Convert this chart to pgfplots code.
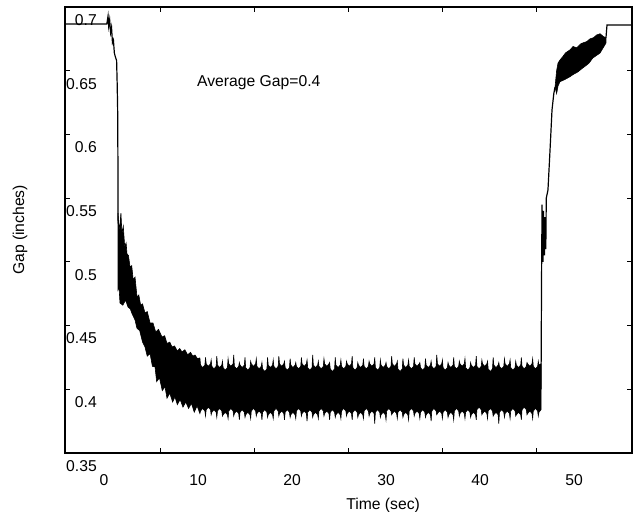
\documentclass[border=0pt]{standalone}
\usepackage{fontspec}
\setmainfont{Liberation Sans}
\usepackage{pgfplots}
\pgfplotsset{compat=1.18}
\newcommand{\chartfont}{\fontsize{15.7bp}{18bp}\selectfont}
\begin{document}
\begin{tikzpicture}
\begin{axis}[
    at={(0,0)}, anchor=south west,
    scale only axis, width=567bp, height=446bp,
    xmin=-4.15, xmax=56.17, ymin=0.35, ymax=0.70,
    axis line style={line width=1.2bp},
    tick align=inside,
    major tick length=5bp,
    tick style={line width=1bp, black},
    xtick={6,16,26,36,46}, xticklabels={},
    extra x ticks={0,10,20,30,40,50},
    extra x tick labels={0,10,20,30,40,50},
    extra x tick style={major tick length=0pt},
    xticklabel style={anchor=north, inner sep=0pt, yshift=-21.5bp, font=\chartfont},
    ytick={0.35,0.4,0.45,0.5,0.55,0.6,0.65,0.7},
    yticklabels={0.35,0.4,0.45,0.5,0.55,0.6,0.65,0.7},
    yticklabel style={anchor=east, inner sep=0pt, xshift=32bp, yshift=-13bp, font=\chartfont},
    xlabel={Time (sec)},
    ylabel={Gap (inches)},
    xlabel style={at={(axis description cs:0.561,-0.1166)}, anchor=center, font=\chartfont},
    ylabel style={at={(axis description cs:-0.0794,0.5)}, anchor=center, font=\chartfont},
  ]
% start level and drop
\addplot[black, line width=1.2bp] coordinates {
  (-4.15,0.6867) (0.3,0.6867) (0.43,0.6929) (0.5,0.685) (0.6,0.690) (0.7,0.680)
  (0.8,0.684) (0.9,0.672) (1.0,0.674) (1.1,0.664) (1.2,0.661) (1.34,0.658)
  (1.40,0.640) (1.45,0.620) (1.48,0.580) (1.5,0.530)
};
% noisy decay and steady band
\addplot[black, fill=black, line width=0.6bp] coordinates {
  (1.49,0.5383) (1.6,0.525) (1.7,0.530) (1.8,0.5383) (1.91,0.522) (2.05,0.528)
  (2.2,0.512) (2.35,0.5148) (2.45,0.506) (2.6,0.505) (2.77,0.496) (2.95,0.497)
  (3.1,0.486) (3.3,0.488) (3.51,0.4724) (3.7,0.474) (3.9,0.466) (4.1,0.467)
  (4.36,0.4599) (4.6,0.461) (4.9,0.452) (5.21,0.452) (5.5,0.445) (5.8,0.447)
  (6.17,0.441) (6.45,0.442) (6.7,0.436) (7.0,0.437) (7.23,0.4332) (7.5,0.434)
  (7.8,0.430) (8.05,0.432) (8.30,0.4293) (8.6,0.431) (8.9,0.427) (9.2,0.429)
  (9.45,0.426) (9.68,0.4269) (9.95,0.424)
  (10.2,0.4246) (10.27,0.419)
  (10.5,0.417) (10.73,0.419) (10.8,0.425) (10.87,0.420)
  (11.1,0.418) (11.33,0.420) (11.4,0.423) (11.47,0.418)
  (11.7,0.416) (11.93,0.418) (12.0,0.426) (12.07,0.419)
  (12.3,0.417) (12.53,0.419) (12.6,0.422) (12.67,0.417)
  (12.9,0.415) (13.13,0.417) (13.2,0.424) (13.27,0.420)
  (13.5,0.418) (13.73,0.420) (13.8,0.427) (13.87,0.418)
  (14.1,0.416) (14.33,0.418) (14.4,0.421) (14.47,0.419)
  (14.7,0.417) (14.93,0.419) (15.0,0.425) (15.07,0.417)
  (15.3,0.415) (15.53,0.417) (15.6,0.422) (15.67,0.420)
  (15.9,0.418) (16.13,0.420) (16.2,0.424) (16.27,0.418)
  (16.5,0.416) (16.73,0.418) (16.8,0.421) (16.87,0.416)
  (17.1,0.414) (17.33,0.416) (17.4,0.425) (17.47,0.419)
  (17.7,0.417) (17.93,0.419) (18.0,0.423) (18.07,0.418)
  (18.3,0.416) (18.53,0.418) (18.6,0.426) (18.67,0.420)
  (18.9,0.418) (19.13,0.420) (19.2,0.422) (19.27,0.417)
  (19.5,0.415) (19.73,0.417) (19.8,0.424) (19.87,0.419)
  (20.1,0.417) (20.33,0.419) (20.4,0.421) (20.47,0.418)
  (20.7,0.416) (20.93,0.418) (21.0,0.425) (21.07,0.420)
  (21.3,0.418) (21.53,0.420) (21.6,0.423) (21.67,0.417)
  (21.9,0.415) (22.13,0.417) (22.2,0.427) (22.27,0.419)
  (22.5,0.417) (22.73,0.419) (22.8,0.422) (22.87,0.418)
  (23.1,0.416) (23.33,0.418) (23.4,0.424) (23.47,0.420)
  (23.7,0.418) (23.93,0.420) (24.0,0.421) (24.07,0.416)
  (24.3,0.414) (24.53,0.416) (24.6,0.425) (24.67,0.419)
  (24.9,0.417) (25.13,0.419) (25.2,0.423) (25.27,0.418)
  (25.5,0.416) (25.73,0.418) (25.8,0.422) (25.87,0.420)
  (26.1,0.418) (26.33,0.420) (26.4,0.426) (26.47,0.417)
  (26.7,0.415) (26.93,0.417) (27.0,0.421) (27.07,0.419)
  (27.3,0.417) (27.53,0.419) (27.6,0.424) (27.67,0.418)
  (27.9,0.416) (28.13,0.418) (28.2,0.422) (28.27,0.420)
  (28.5,0.418) (28.73,0.420) (28.8,0.425) (28.87,0.417)
  (29.1,0.415) (29.33,0.417) (29.4,0.423) (29.47,0.419)
  (29.7,0.417) (29.93,0.419) (30.0,0.421) (30.07,0.418)
  (30.3,0.416) (30.53,0.418) (30.6,0.426) (30.67,0.420)
  (30.9,0.418) (31.13,0.420) (31.2,0.422) (31.27,0.416)
  (31.5,0.414) (31.73,0.416) (31.8,0.424) (31.87,0.419)
  (32.1,0.417) (32.33,0.419) (32.4,0.423) (32.47,0.418)
  (32.7,0.416) (32.93,0.418) (33.0,0.425) (33.07,0.420)
  (33.3,0.418) (33.53,0.420) (33.6,0.421) (33.67,0.417)
  (33.9,0.415) (34.13,0.417) (34.2,0.424) (34.27,0.419)
  (34.5,0.417) (34.73,0.419) (34.8,0.422) (34.87,0.418)
  (35.1,0.416) (35.33,0.418) (35.4,0.427) (35.47,0.420)
  (35.7,0.418) (35.93,0.420) (36.0,0.423) (36.07,0.417)
  (36.3,0.415) (36.53,0.417) (36.6,0.421) (36.67,0.419)
  (36.9,0.417) (37.13,0.419) (37.2,0.425) (37.27,0.418)
  (37.5,0.416) (37.73,0.418) (37.8,0.422) (37.87,0.420)
  (38.1,0.418) (38.33,0.420) (38.4,0.424) (38.47,0.417)
  (38.7,0.415) (38.93,0.417) (39.0,0.421) (39.07,0.419)
  (39.3,0.417) (39.53,0.419) (39.6,0.426) (39.67,0.418)
  (39.9,0.416) (40.13,0.418) (40.2,0.423) (40.27,0.420)
  (40.5,0.418) (40.73,0.420) (40.8,0.422) (40.87,0.416)
  (41.1,0.414) (41.33,0.416) (41.4,0.425) (41.47,0.419)
  (41.7,0.417) (41.93,0.419) (42.0,0.421) (42.07,0.418)
  (42.3,0.416) (42.53,0.418) (42.6,0.424) (42.67,0.420)
  (42.9,0.418) (43.13,0.420) (43.2,0.423) (43.27,0.417)
  (43.5,0.415) (43.73,0.417) (43.8,0.422) (43.87,0.419)
  (44.1,0.417) (44.33,0.419) (44.4,0.425) (44.47,0.418)
  (44.7,0.416) (44.93,0.418) (45.0,0.421) (45.07,0.420)
  (45.3,0.418) (45.53,0.420) (45.6,0.424) (45.67,0.418)
  (45.9,0.416) (46.13,0.418) (46.2,0.422) (46.27,0.419)
  (46.49,0.420)
  (46.49,0.384) (46.27,0.382) (46.2,0.379) (46.13,0.383)
  (45.9,0.385) (45.67,0.383) (45.6,0.377) (45.53,0.381)
  (45.3,0.383) (45.07,0.381) (45.0,0.380) (44.93,0.384)
  (44.7,0.386) (44.47,0.384) (44.4,0.376) (44.33,0.380)
  (44.1,0.382) (43.87,0.380) (43.8,0.379) (43.73,0.383)
  (43.5,0.385) (43.27,0.383) (43.2,0.377) (43.13,0.381)
  (42.9,0.383) (42.67,0.381) (42.6,0.378) (42.53,0.382)
  (42.3,0.384) (42.07,0.382) (42.0,0.373) (41.93,0.380)
  (41.7,0.382) (41.47,0.380) (41.4,0.379) (41.33,0.383)
  (41.1,0.385) (40.87,0.383) (40.8,0.377) (40.73,0.381)
  (40.5,0.383) (40.27,0.381) (40.2,0.380) (40.13,0.384)
  (39.9,0.386) (39.67,0.384) (39.6,0.376) (39.53,0.380)
  (39.3,0.382) (39.07,0.380) (39.0,0.378) (38.93,0.382)
  (38.7,0.384) (38.47,0.382) (38.4,0.377) (38.33,0.381)
  (38.1,0.383) (37.87,0.381) (37.8,0.379) (37.73,0.383)
  (37.5,0.385) (37.27,0.383) (37.2,0.376) (37.13,0.380)
  (36.9,0.382) (36.67,0.380) (36.6,0.378) (36.53,0.382)
  (36.3,0.384) (36.07,0.382) (36.0,0.377) (35.93,0.381)
  (35.7,0.383) (35.47,0.381) (35.4,0.380) (35.33,0.383)
  (35.1,0.385) (34.87,0.383) (34.8,0.375) (34.73,0.380)
  (34.5,0.382) (34.27,0.380) (34.2,0.378) (34.13,0.382)
  (33.9,0.384) (33.67,0.382) (33.6,0.377) (33.53,0.381)
  (33.3,0.383) (33.07,0.381) (33.0,0.379) (32.93,0.383)
  (32.7,0.385) (32.47,0.383) (32.4,0.376) (32.33,0.380)
  (32.1,0.382) (31.87,0.380) (31.8,0.378) (31.73,0.382)
  (31.5,0.384) (31.27,0.382) (31.2,0.377) (31.13,0.381)
  (30.9,0.383) (30.67,0.381) (30.6,0.380) (30.53,0.383)
  (30.3,0.385) (30.07,0.383) (30.0,0.376) (29.93,0.380)
  (29.7,0.382) (29.47,0.380) (29.4,0.378) (29.33,0.382)
  (29.1,0.384) (28.87,0.382) (28.8,0.373) (28.73,0.381)
  (28.5,0.383) (28.27,0.381) (28.2,0.379) (28.13,0.383)
  (27.9,0.385) (27.67,0.383) (27.6,0.377) (27.53,0.380)
  (27.3,0.382) (27.07,0.380) (27.0,0.378) (26.93,0.382)
  (26.7,0.384) (26.47,0.382) (26.4,0.376) (26.33,0.381)
  (26.1,0.383) (25.87,0.381) (25.8,0.379) (25.73,0.383)
  (25.5,0.385) (25.27,0.383) (25.2,0.377) (25.13,0.380)
  (24.9,0.382) (24.67,0.380) (24.6,0.378) (24.53,0.382)
  (24.3,0.384) (24.07,0.382) (24.0,0.376) (23.93,0.381)
  (23.7,0.383) (23.47,0.381) (23.4,0.379) (23.33,0.383)
  (23.1,0.385) (22.87,0.383) (22.8,0.377) (22.73,0.380)
  (22.5,0.382) (22.27,0.380) (22.2,0.378) (22.13,0.382)
  (21.9,0.384) (21.67,0.382) (21.6,0.375) (21.53,0.381)
  (21.3,0.383) (21.07,0.381) (21.0,0.379) (20.93,0.383)
  (20.7,0.385) (20.47,0.383) (20.4,0.377) (20.33,0.380)
  (20.1,0.382) (19.87,0.380) (19.8,0.378) (19.73,0.382)
  (19.5,0.384) (19.27,0.382) (19.2,0.376) (19.13,0.381)
  (18.9,0.383) (18.67,0.381) (18.6,0.379) (18.53,0.383)
  (18.3,0.385) (18.07,0.383) (18.0,0.377) (17.93,0.380)
  (17.7,0.382) (17.47,0.380) (17.4,0.378) (17.33,0.382)
  (17.1,0.384) (16.87,0.382) (16.8,0.376) (16.73,0.381)
  (16.5,0.383) (16.27,0.381) (16.2,0.379) (16.13,0.383)
  (15.9,0.385) (15.67,0.383) (15.6,0.377) (15.53,0.380)
  (15.3,0.382) (15.07,0.380) (15.0,0.378) (14.93,0.382)
  (14.7,0.384) (14.47,0.382) (14.4,0.376) (14.33,0.381)
  (14.1,0.383) (13.87,0.381) (13.8,0.379) (13.73,0.383)
  (13.5,0.385) (13.27,0.383) (13.2,0.377) (13.13,0.380)
  (12.9,0.382) (12.67,0.380) (12.6,0.379) (12.53,0.383)
  (12.3,0.385) (12.07,0.383) (12.0,0.378) (11.93,0.382)
  (11.7,0.384) (11.47,0.382) (11.4,0.380) (11.33,0.384)
  (11.1,0.386) (10.87,0.384) (10.8,0.379) (10.73,0.383)
  (10.5,0.385) (10.27,0.383) (10.2,0.381)
  (9.9,0.387) (9.6,0.382) (9.3,0.389) (9.0,0.385) (8.7,0.390) (8.4,0.386)
  (8.1,0.392) (7.8,0.388) (7.55,0.394) (7.3,0.390) (7.0,0.397) (6.7,0.393)
  (6.49,0.402) (6.2,0.399) (5.9,0.409) (5.6,0.406) (5.43,0.4175) (5.15,0.418)
  (4.9,0.428) (4.6,0.426) (4.36,0.4332) (4.1,0.437) (3.8,0.446) (3.5,0.448)
  (3.3,0.4544) (3.0,0.459) (2.8,0.463) (2.55,0.4646) (2.3,0.470) (2.0,0.466)
  (1.70,0.4677) (1.6,0.480) (1.49,0.478)
} -- cycle;
% recovery
\addplot[black, line width=1.2bp] coordinates {
  (46.49,0.400) (46.55,0.490) (46.6,0.545) (46.7,0.500) (46.75,0.540)
  (46.85,0.505) (46.9,0.535) (47.0,0.510) (47.05,0.550) (47.23,0.5564)
  (47.45,0.5878) (47.66,0.6192) (47.85,0.632) (47.98,0.6372)
};
\addplot[black, fill=black, line width=0.6bp] coordinates {
  (47.98,0.637) (48.15,0.650) (48.3,0.656) (48.51,0.6584) (48.8,0.661)
  (49.1,0.664) (49.57,0.6663) (49.9,0.669) (50.3,0.668) (50.7,0.671)
  (51.0,0.672) (51.35,0.6728) (51.7,0.675) (52.1,0.676) (52.4,0.678)
  (52.77,0.679) (53.1,0.677) (53.4,0.6757)
  (53.4,0.6717) (53.1,0.668) (52.77,0.6639) (52.4,0.662) (52.0,0.660)
  (51.6,0.656) (51.35,0.6545) (50.9,0.652) (50.4,0.649) (49.9,0.647)
  (49.57,0.6453) (49.0,0.643) (48.51,0.6414) (48.3,0.638) (48.15,0.632)
} -- cycle;
\addplot[black, line width=1.2bp] coordinates {
  (53.4,0.6757) (53.51,0.6859) (56.17,0.6859)
};
\node[anchor=west, inner sep=0pt, font=\chartfont] at (axis cs:9.89,0.6408) {Average Gap=0.4};
\end{axis}
\pgfresetboundingbox
\path (-65bp,-59bp) rectangle (573bp,453bp);
\end{tikzpicture}
\end{document}
